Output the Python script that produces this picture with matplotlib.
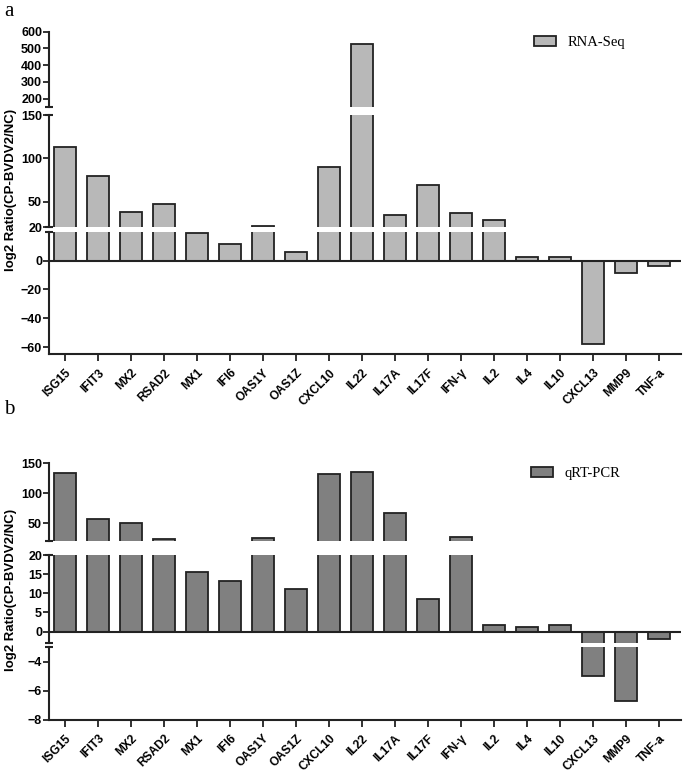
import numpy as np
import matplotlib.pyplot as plt
from matplotlib.patches import Patch

genes = ['ISG15', 'IFIT3', 'MX2', 'RSAD2', 'MX1', 'IFI6', 'OAS1Y', 'OAS1Z', 'CXCL10',
         'IL22', 'IL17A', 'IL17F', 'IFN-γ', 'IL2', 'IL4', 'IL10', 'CXCL13', 'MMP9', 'TNF-a']
rna_seq = [113, 80, 38, 47, 19.5, 11.6, 22.3, 6, 89.5,
           525, 34.5, 69, 37, 29, 2.3, 2.3, -58, -8.4, -3.6]
qrt_pcr = [134, 57, 50, 24, 15.5, 13.3, 26, 11.1, 132,
           135, 68, 8.6, 26.7, 1.6, 1.3, 1.75, -5.0, -6.7, -2.0]

W, H = 685, 775
plt.rcParams['font.family'] = ['Liberation Sans', 'DejaVu Sans']
fig = plt.figure(figsize=(W / 100, H / 100), dpi=100)

x = np.arange(len(genes))
X0, X1 = 49, 681
ink = '#222222'


def seg(ytop, ybot, ylim, ticks, values, color, caps, bottom=False, zero=False):
    ax = fig.add_axes([X0 / W, 1 - ybot / H, (X1 - X0) / W, (ybot - ytop) / H])
    ax.bar(x, values, width=0.67, color=color, edgecolor=ink, linewidth=1.3)
    ax.set_xlim(-(65 - X0) / 33, 18 + (X1 - 659) / 33)
    ax.set_ylim(*ylim)
    ax.set_yticks(ticks)
    for s in ['top', 'right']:
        ax.spines[s].set_visible(False)
    ax.spines['left'].set_linewidth(1.5)
    ax.spines['left'].set_color(ink)
    ax.tick_params(axis='y', length=4, width=1.3, color=ink, labelsize=9, pad=1)
    for lab in ax.get_yticklabels():
        lab.set_fontweight('bold')
    if zero:
        ax.axhline(0, color=ink, linewidth=1.5)
    if bottom:
        ax.spines['bottom'].set_linewidth(1.5)
        ax.spines['bottom'].set_color(ink)
        ax.set_xticks(x)
        ax.set_xticklabels(genes, rotation=45, ha='right', rotation_mode='anchor',
                           fontsize=8.6, fontweight='bold')
        ax.tick_params(axis='x', length=5, width=1.3, color=ink, pad=4)
    else:
        ax.spines['bottom'].set_visible(False)
        ax.set_xticks([])
    dx = 4 / (X1 - X0)
    for c in caps:
        ax.plot([-dx, dx], [c, c], transform=ax.transAxes, color=ink,
                linewidth=1.5, clip_on=False, solid_capstyle='butt')
    return ax


# panel a
seg(31.7, 107, (150, 600), [200, 300, 400, 500, 600], rna_seq, '#b8b8b8', [0])
seg(115, 227.5, (20, 150), [20, 50, 100, 150], rna_seq, '#b8b8b8', [0, 1])
seg(231.8, 354.3, (-65, 20), [-60, -40, -20, 0], rna_seq, '#b8b8b8', [1],
    bottom=True, zero=True)

# panel b
seg(463.3, 541.3, (20, 150), [50, 100, 150], qrt_pcr, '#808080', [0])
seg(555, 643, (-3, 20), [0, 5, 10, 15, 20], qrt_pcr, '#808080', [0, 1], zero=True)
seg(647, 720, (-8, -3), [-8, -6, -4], qrt_pcr, '#808080', [1], bottom=True)

for lab, yl, ym in [('a', 12, 190), ('b', 410, 590)]:
    fig.text(4 / W, 1 - yl / H, lab, family='Liberation Serif', fontsize=15, va='center')
    fig.text(11 / W, 1 - ym / H, 'log2 Ratio(CP-BVDV2/NC)', rotation=90,
             fontsize=9.5, fontweight='bold', va='center', ha='center')

for name, color, lx, ly in [('RNA-Seq', '#b8b8b8', 534, 36), ('qRT-PCR', '#808080', 531, 467)]:
    fig.legend(handles=[Patch(facecolor=color, edgecolor=ink, linewidth=1.3, label=name)],
               loc='upper left', bbox_to_anchor=(lx / W, 1 - ly / H), frameon=False,
               borderpad=0, borderaxespad=0, handlelength=1.5, handleheight=0.7,
               handletextpad=0.8, prop={'family': 'Liberation Serif', 'size': 10.5})

fig.savefig('out.png', dpi=100)
